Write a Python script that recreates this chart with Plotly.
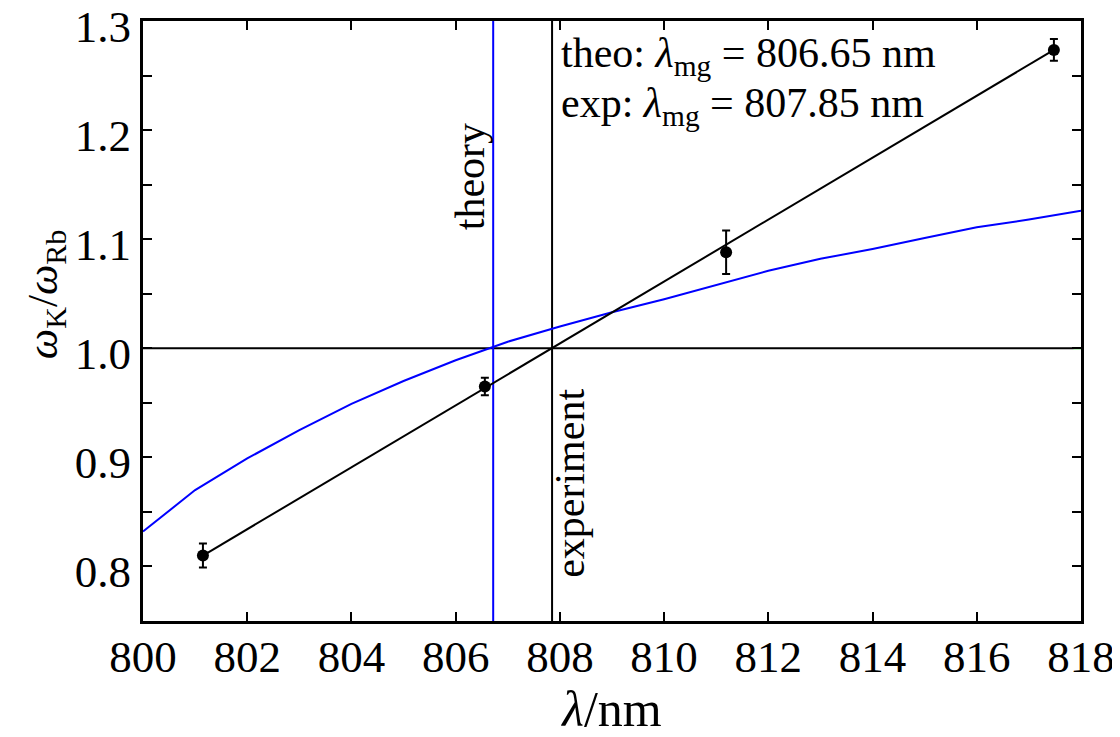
import plotly.graph_objects as go

# measured data (black points with error bars)
exp_x = [801.15, 806.56, 811.19, 817.48]
exp_y = [0.810, 0.965, 1.088, 1.2735]
exp_err = [0.011, 0.008, 0.020, 0.010]

# linear fit line
fit_x = [801.15, 807.85, 817.48]
fit_y = [0.810, 1.000, 1.2735]

# theory curve
theo_x = [800, 801, 802, 803, 804, 805, 806, 807, 808, 809, 810, 811, 812, 813, 814, 815, 816, 817, 818]
theo_y = [0.832, 0.870, 0.899, 0.925, 0.949, 0.970, 0.989, 1.006, 1.020, 1.033, 1.045, 1.058,
          1.071, 1.082, 1.091, 1.101, 1.111, 1.118, 1.126]

theo_mg = 806.72
exp_mg = 807.85
ref_level = 1.0
black_ref_end = 817.86

x_ticks = [800, 802, 804, 806, 808, 810, 812, 814, 816, 818]
y_ticks = [0.75, 0.8, 0.85, 0.9, 0.95, 1.0, 1.05, 1.1, 1.15, 1.2, 1.25, 1.3]
y_labels = ["", "0.8", "", "0.9", "", "1.0", "", "1.1", "", "1.2", "", "1.3"]

FONT = "Liberation Serif"

fig = go.Figure()

# black horizontal line
fig.add_trace(go.Scatter(x=[800, black_ref_end], y=[ref_level, ref_level], mode="lines",
                         line=dict(color="black", width=2), showlegend=False))
# small green reference segment at right end
fig.add_trace(go.Scatter(x=[black_ref_end, 818], y=[ref_level, ref_level], mode="lines",
                         line=dict(color="#00bb00", width=2), showlegend=False, hoverinfo="skip"))
# vertical lines
fig.add_trace(go.Scatter(x=[theo_mg, theo_mg], y=[0.75, 1.3], mode="lines",
                         line=dict(color="#0000ff", width=2), showlegend=False))
fig.add_trace(go.Scatter(x=[exp_mg, exp_mg], y=[0.75, 1.3], mode="lines",
                         line=dict(color="black", width=2), showlegend=False))
# theory curve
fig.add_trace(go.Scatter(x=theo_x, y=theo_y, mode="lines",
                         line=dict(color="#0000ff", width=2), showlegend=False))
# fit line
fig.add_trace(go.Scatter(x=fit_x, y=fit_y, mode="lines",
                         line=dict(color="black", width=2), showlegend=False))
# data points
fig.add_trace(go.Scatter(x=exp_x, y=exp_y, mode="markers",
                         marker=dict(color="black", size=12),
                         error_y=dict(type="data", array=exp_err, color="black", thickness=2, width=4),
                         showlegend=False))

axis_common = dict(showline=True, linecolor="black", linewidth=3, mirror="ticks",
                   ticks="inside", ticklen=9, tickwidth=2, tickcolor="black",
                   showgrid=False, zeroline=False, automargin=False,
                   ticklabeloverflow="allow",
                   tickfont=dict(family=FONT, size=45, color="black"))

fig.update_xaxes(range=[800, 818], tickvals=x_ticks, ticktext=[str(v) for v in x_ticks],
                 ticklabelstandoff=-6,
                 title=dict(text="<i>λ</i>/nm", font=dict(family=FONT, size=50, color="black"), standoff=0),
                 **axis_common)
fig.update_yaxes(range=[0.75, 1.3], tickvals=y_ticks, ticktext=y_labels,
                 ticklabelshift=5,
                 **axis_common)

ann_font = dict(family=FONT, size=42, color="black")
fig.add_annotation(xref="paper", x=-0.104, xanchor="center", yref="y", y=1.05, yanchor="middle",
                   textangle=-90, showarrow=False,
                   text="<i>ω</i><sub>K</sub>/<i>ω</i><sub>Rb</sub>",
                   font=dict(family=FONT, size=43, color="black"))
fig.add_annotation(x=806.28, y=1.157, text="theory", textangle=-90, showarrow=False, font=ann_font)
fig.add_annotation(x=808.18, y=0.876, text="experiment", textangle=-90, showarrow=False, font=ann_font)
fig.add_annotation(x=807.98, y=1.268, xanchor="left", text="theo: <i>λ</i><sub>mg</sub> = 806.65 nm",
                   showarrow=False, font=ann_font)
fig.add_annotation(x=807.98, y=1.222, xanchor="left", text="exp: <i>λ</i><sub>mg</sub> = 807.85 nm",
                   showarrow=False, font=ann_font)

fig.update_layout(width=1112, height=729, margin=dict(l=135, r=39, t=13, b=116),
                  plot_bgcolor="white", paper_bgcolor="white")

fig.write_html("out.html")
